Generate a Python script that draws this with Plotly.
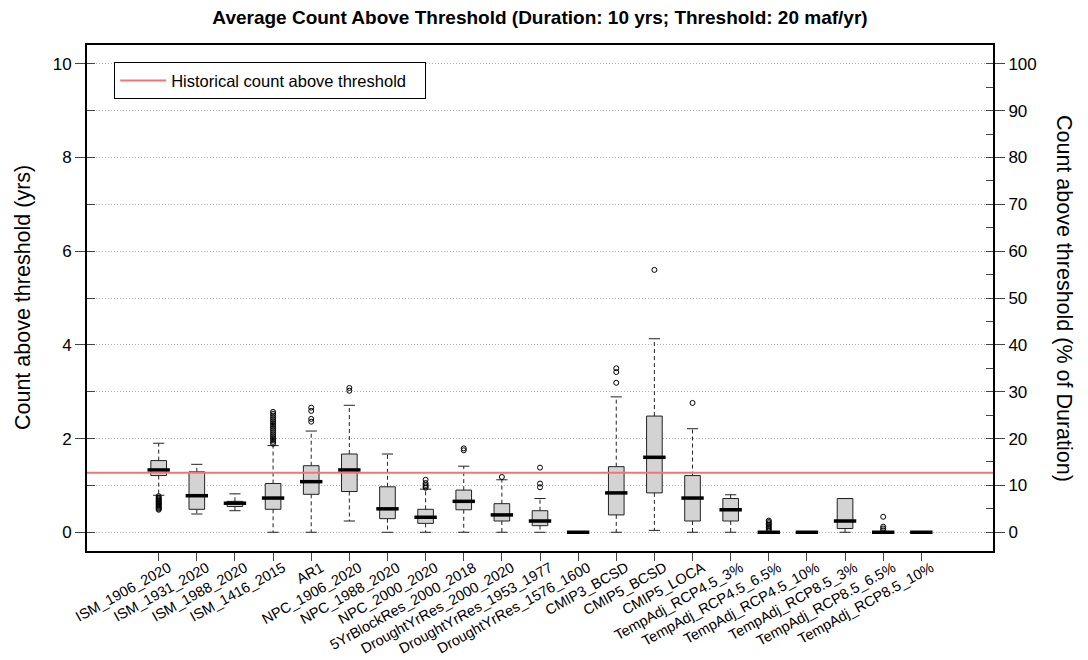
import plotly.graph_objects as go
import numpy as np

categories = ["ISM_1906_2020", "ISM_1931_2020", "ISM_1988_2020", "ISM_1416_2015", "AR1",
              "NPC_1906_2020", "NPC_1988_2020", "NPC_2000_2020", "5YrBlockRes_2000_2018",
              "DroughtYrRes_2000_2020", "DroughtYrRes_1953_1977", "DroughtYrRes_1576_1600",
              "CMIP3_BCSD", "CMIP5_BCSD", "CMIP5_LOCA", "TempAdj_RCP4.5_3%", "TempAdj_RCP4.5_6.5%",
              "TempAdj_RCP4.5_10%", "TempAdj_RCP8.5_3%", "TempAdj_RCP8.5_6.5%", "TempAdj_RCP8.5_10%"]

lower_whisker = [0.79, 0.39, 0.46, 0.00, 0.00, 0.24, 0.00, 0.00, 0.00, 0.00, 0.00, 0.00,
                 0.00, 0.04, 0.00, 0.00, 0.00, 0.00, 0.00, 0.00, 0.00]
q1 = [1.21, 0.49, 0.55, 0.49, 0.81, 0.87, 0.29, 0.19, 0.48, 0.24, 0.14, 0.00,
      0.37, 0.84, 0.24, 0.24, 0.00, 0.00, 0.08, 0.00, 0.00]
median = [1.33, 0.78, 0.62, 0.73, 1.08, 1.33, 0.50, 0.32, 0.66, 0.37, 0.24, 0.00,
          0.84, 1.60, 0.73, 0.48, 0.00, 0.00, 0.24, 0.00, 0.00]
q3 = [1.53, 1.29, 0.66, 1.04, 1.42, 1.67, 0.97, 0.49, 0.90, 0.61, 0.46, 0.00,
      1.40, 2.48, 1.21, 0.72, 0.00, 0.00, 0.72, 0.00, 0.00]
upper_whisker = [1.90, 1.45, 0.82, 1.85, 2.16, 2.71, 1.67, 0.92, 1.41, 1.12, 0.72, 0.00,
                 2.89, 4.13, 2.21, 0.80, 0.00, 0.00, 0.72, 0.00, 0.00]
outliers = [
    [0.77, 0.74, 0.72, 0.70, 0.68, 0.66, 0.64, 0.62, 0.60, 0.58, 0.56, 0.54, 0.52, 0.50, 0.48],
    [],
    [],
    [1.89, 1.93, 1.97, 2.01, 2.05, 2.09, 2.13, 2.17, 2.21, 2.25, 2.29, 2.33, 2.37, 2.41, 2.45, 2.49, 2.53, 2.57],
    [2.36, 2.42, 2.59, 2.66],
    [3.02, 3.08],
    [],
    [0.95, 0.98, 1.01, 1.05, 1.12],
    [1.75, 1.79],
    [1.18],
    [0.96, 1.04, 1.38],
    [],
    [3.19, 3.42, 3.50],
    [5.60],
    [2.76],
    [],
    [0.04, 0.07, 0.10, 0.13, 0.16, 0.19, 0.22, 0.25],
    [],
    [],
    [0.04, 0.08, 0.12, 0.33],
    [],
]
historical_count = 1.27

pos = list(range(len(categories)))
FONT = "Liberation Sans, Arial, Helvetica, sans-serif"
TICKC = "#444444"
GRIDC = "#b0b0b0"

fig = go.Figure()

# boxes
fig.add_trace(go.Box(
    x=pos, q1=q1, median=median, q3=q3, lowerfence=q1, upperfence=q3,
    width=0.41, whiskerwidth=0, fillcolor="#d3d3d3",
    line=dict(color="#222222", width=1), boxpoints=False, showlegend=False, hoverinfo="skip"))

# dashed whiskers
wx, wy = [], []
for i in pos:
    if upper_whisker[i] > q3[i]:
        wx += [i, i, None]
        wy += [q3[i], upper_whisker[i], None]
    if lower_whisker[i] < q1[i]:
        wx += [i, i, None]
        wy += [q1[i], lower_whisker[i], None]
fig.add_trace(go.Scatter(x=wx, y=wy, mode="lines",
                         line=dict(color="#222222", width=1, dash="4px,3px"),
                         showlegend=False, hoverinfo="skip"))

# whisker caps
cx = pos + pos
cy = upper_whisker + lower_whisker
fig.add_trace(go.Scatter(x=cx, y=cy, mode="markers",
                         marker=dict(symbol="line-ew", size=8, color="#222222",
                                     line=dict(color="#222222", width=1)),
                         showlegend=False, hoverinfo="skip"))

# thick medians
fig.add_trace(go.Scatter(x=pos, y=median, mode="markers",
                         marker=dict(symbol="line-ew", size=16, color="black",
                                     line=dict(color="black", width=3.5)),
                         showlegend=False, hoverinfo="skip"))

# outliers
ox, oy = [], []
for i, vals in enumerate(outliers):
    ox += [i] * len(vals)
    oy += vals
fig.add_trace(go.Scatter(x=ox, y=oy, mode="markers",
                         marker=dict(symbol="circle-open", size=5, color="black",
                                     line=dict(color="black", width=1)),
                         showlegend=False, hoverinfo="skip"))

# dummy traces so the extra axes render
for ya in ["y2", "y3", "y4"]:
    fig.add_trace(go.Scatter(x=[None], y=[None], yaxis=ya, showlegend=False, hoverinfo="skip"))

fig.add_shape(type="line", xref="paper", x0=0, x1=1, yref="y",
              y0=historical_count, y1=historical_count,
              line=dict(color="#F27474", width=2),
              showlegend=True, name="Historical count above threshold   ")

fig.update_layout(
    width=1088, height=660,
    margin=dict(l=87, r=95, t=45, b=109, autoexpand=False),
    paper_bgcolor="white", plot_bgcolor="white",
    font=dict(family=FONT, color="black"),
    title=dict(text="<b>Average Count Above Threshold (Duration: 10 yrs; Threshold: 20 maf/yr)</b>",
               x=0.5, xref="paper", xanchor="center", y=0.973, yref="container", yanchor="middle",
               font=dict(size=19, family=FONT)),
    showlegend=True,
    legend=dict(x=0.03, y=0.966, xanchor="left", yanchor="top",
                bordercolor="black", borderwidth=1, bgcolor="white", itemwidth=46,
                font=dict(size=16.5, family=FONT)),
    xaxis=dict(range=[-1.88, 21.88], tickvals=pos, ticktext=categories, tickangle=-29,
               ticks="outside", ticklen=8, tickcolor=TICKC, showgrid=False, zeroline=False,
               showline=True, linecolor="black", linewidth=2, mirror=True, automargin=False,
               ticklabeloverflow="allow", ticklabelshift=10, ticklabelstandoff=-7,
               tickfont=dict(size=14.5, family=FONT)),
    yaxis=dict(range=[-0.4, 10.4], tickmode="linear", tick0=0, dtick=2, ticks="outside", ticklen=10,
               tickcolor=TICKC, showgrid=True, gridcolor=GRIDC, griddash="1px,2px", gridwidth=1,
               zeroline=False, showline=True, linecolor="black", linewidth=2, mirror=True,
               automargin=False, tickfont=dict(size=17, family=FONT),
               minor=dict(dtick=1, tick0=0, ticks="inside", ticklen=8, tickcolor=TICKC,
                          showgrid=True, gridcolor=GRIDC, griddash="1px,2px", gridwidth=1)),
    yaxis2=dict(range=[-4, 104], overlaying="y", side="right", tickmode="linear", tick0=0, dtick=10,
                ticks="outside", ticklen=10, tickcolor=TICKC, showgrid=False, zeroline=False,
                showline=True, linecolor="black", linewidth=2, automargin=False,
                tickfont=dict(size=17, family=FONT),
                minor=dict(dtick=5, tick0=0, ticks="inside", ticklen=7, tickcolor=TICKC)),
    yaxis3=dict(range=[-0.4, 10.4], overlaying="y", side="left", tickmode="linear", tick0=0, dtick=2,
                ticks="inside", ticklen=8, tickcolor=TICKC, showticklabels=False, showgrid=False,
                zeroline=False, showline=False, automargin=False),
    yaxis4=dict(range=[-4, 104], overlaying="y", side="right", tickmode="linear", tick0=0, dtick=10,
                ticks="inside", ticklen=7, tickcolor=TICKC, showticklabels=False, showgrid=False,
                zeroline=False, showline=False, automargin=False),
    annotations=[
        dict(text="Count above threshold (yrs)", xref="paper", yref="paper", x=-0.0706, y=0.5,
             xanchor="center", yanchor="middle", textangle=-90, showarrow=False,
             font=dict(size=21.5, family=FONT)),
        dict(text="Count above threshold (% of Duration)", xref="paper", yref="paper", x=1.0784, y=0.5,
             xanchor="center", yanchor="middle", textangle=90, showarrow=False,
             font=dict(size=21.5, family=FONT)),
    ],
)

fig.write_html("out.html")
